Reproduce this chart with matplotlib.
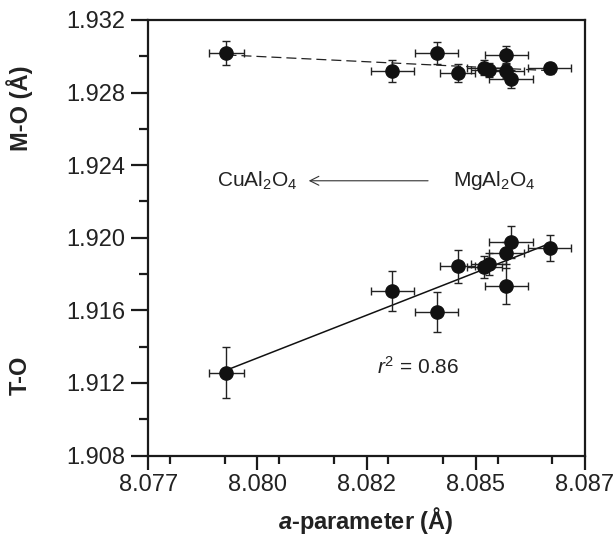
import numpy as np
import matplotlib
matplotlib.use("Agg")
import matplotlib.pyplot as plt
from matplotlib.ticker import FixedLocator, FixedFormatter, MultipleLocator, FormatStrFormatter

plt.rcParams['font.family'] = ['Liberation Sans', 'DejaVu Sans']
plt.rcParams['mathtext.fontset'] = 'custom'
plt.rcParams['mathtext.rm'] = 'Liberation Sans'
plt.rcParams['mathtext.it'] = 'Liberation Sans:italic'
plt.rcParams['mathtext.bf'] = 'Liberation Sans:italic:bold'

# ---- data ----
a_param = [8.07879, 8.08259, 8.08360, 8.08409, 8.08469, 8.08480, 8.08520, 8.08520, 8.08530, 8.08619]
a_err   = [0.0004, 0.0005, 0.0005, 0.0004, 0.0004, 0.0004, 0.0005, 0.0004, 0.0005, 0.0005]
mo      = [1.93017, 1.92921, 1.93017, 1.92907, 1.92938, 1.92925, 1.93007, 1.92921, 1.92874, 1.92934]
mo_err  = [0.00066, 0.0006, 0.0006, 0.0005, 0.0004, 0.0004, 0.0005, 0.0004, 0.0005, 0.0003]
to      = [1.91256, 1.91705, 1.91591, 1.91842, 1.91837, 1.91855, 1.91736, 1.91916, 1.91977, 1.91944]
to_err  = [0.0014, 0.0011, 0.0011, 0.0009, 0.0006, 0.0006, 0.0010, 0.0006, 0.0009, 0.0007]

x_ticks = [8.077, 8.0795, 8.082, 8.0845, 8.087]
x_tick_labels = ['8.077', '8.080', '8.082', '8.085', '8.087']

FS = 17
FS_ANN = 15

fig = plt.figure(figsize=(6.16, 5.40), dpi=100)
ax = fig.add_axes([148.3/616, 1-455.5/540, (585-148.3)/616, (455.5-20)/540])

x = np.array(a_param)
xs = np.array([x.min(), x.max()])
# regression lines
p_mo = np.polyfit(x, mo, 1)
p_to = np.polyfit(x, to, 1)
ax.plot(xs, np.polyval(p_mo, xs), color='#222222', lw=0.9, ls=(0, (8, 4)), zorder=1)
ax.plot(xs, np.polyval(p_to, xs), color='#111111', lw=1.1, zorder=1)

ekw = dict(fmt='o', color='#111111', ecolor='#222222', elinewidth=1.0, capsize=3,
           capthick=1.0, ms=9.5, zorder=3)
ax.errorbar(x, mo, xerr=a_err, yerr=mo_err, **ekw)
ax.errorbar(x, to, xerr=a_err, yerr=to_err, **ekw)

ax.set_xlim(8.077, 8.087)
ax.set_ylim(1.908, 1.932)
ax.xaxis.set_major_locator(FixedLocator(x_ticks))
ax.xaxis.set_major_formatter(FixedFormatter(x_tick_labels))
ax.xaxis.set_minor_locator(MultipleLocator(0.00125))
ax.yaxis.set_major_locator(MultipleLocator(0.004))
ax.yaxis.set_minor_locator(MultipleLocator(0.002))
ax.yaxis.set_major_formatter(FormatStrFormatter('%.3f'))

for s in ax.spines.values():
    s.set_linewidth(1.6)
    s.set_color('#1a1a1a')
ax.tick_params(axis='both', which='both', direction='out', top=False, right=False,
               width=1.6, color='#1a1a1a', labelsize=FS, labelcolor='#222222')
ax.tick_params(axis='y', which='major', length=12.5, pad=4)
ax.tick_params(axis='y', which='minor', length=6.5)
ax.tick_params(axis='x', which='major', length=10, pad=3)
ax.tick_params(axis='x', which='minor', length=6)

# annotations
ax.text(8.07857, 1.92314, r'CuAl$_2$O$_4$', fontsize=FS_ANN, color='#222222', va='center', ha='left')
ax.text(8.08397, 1.92314, r'MgAl$_2$O$_4$', fontsize=FS_ANN, color='#222222', va='center', ha='left')
ax.annotate('', xy=(8.08061, 1.92314), xytext=(8.08347, 1.92314),
            arrowprops=dict(arrowstyle='->', color='#333333', lw=0.8, mutation_scale=16))
ax.text(8.08223, 1.91252, r'$r^2$ = 0.86', fontsize=FS_ANN, color='#222222', va='baseline', ha='left')

fig.text(20/616, 1-108/540, 'M-O (Å)', rotation=90, fontsize=FS, fontweight='bold',
         ha='center', va='center', color='#222222')
fig.text(20/616, 1-375/540, 'T-O', rotation=90, fontsize=FS, fontweight='bold',
         ha='center', va='center', color='#222222')
fig.text(366/616, 1-521/540, r'$\mathbf{a}$-parameter (Å)', fontsize=FS, fontweight='bold',
         ha='center', va='center', color='#222222')

fig.savefig('out.png', dpi=100, facecolor='white')
